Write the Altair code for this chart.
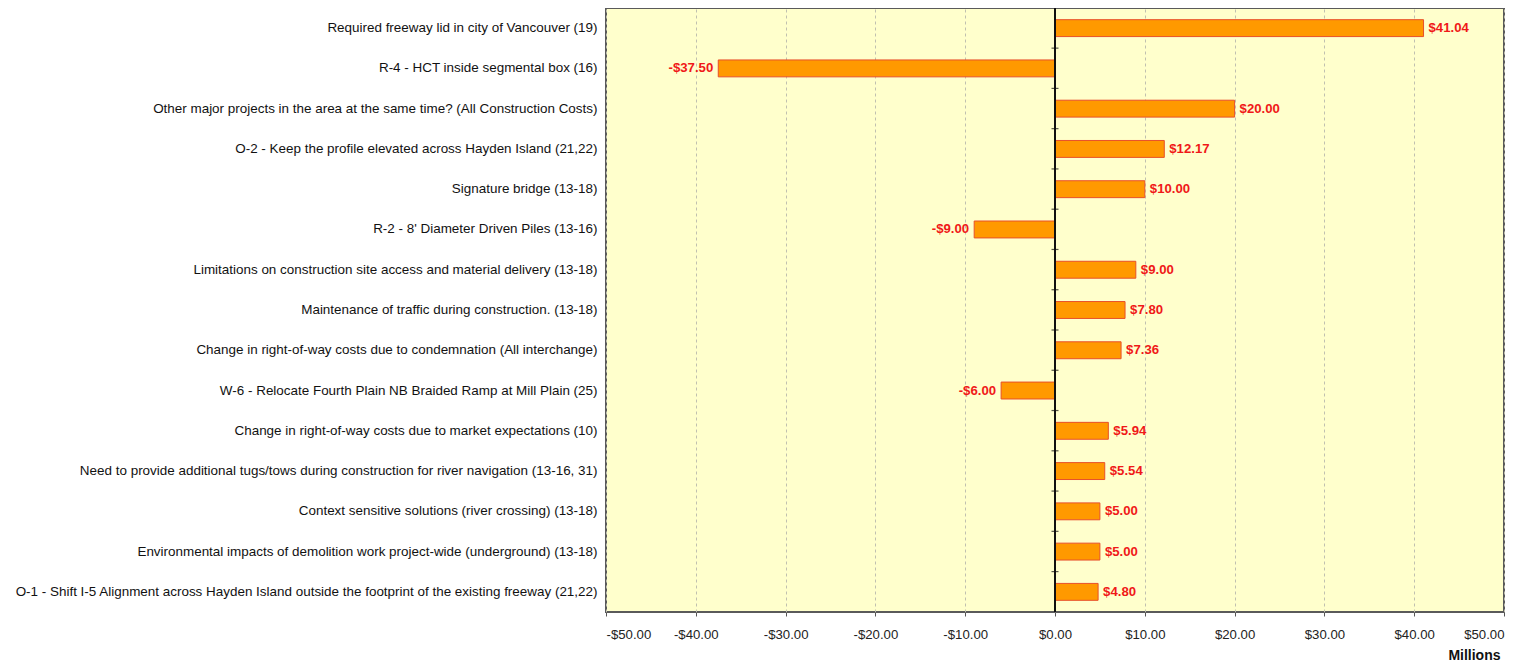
import altair as alt
import pandas as pd

categories = [
    "Required freeway lid in city of Vancouver (19)",
    "R-4 - HCT inside segmental box (16)",
    "Other major projects in the area at the same time? (All Construction Costs)",
    "O-2 - Keep the profile elevated across Hayden Island (21,22)",
    "Signature bridge (13-18)",
    "R-2 - 8' Diameter Driven Piles (13-16)",
    "Limitations on construction site access and material delivery (13-18)",
    "Maintenance of traffic during construction. (13-18)",
    "Change in right-of-way costs due to condemnation (All interchange)",
    "W-6 - Relocate Fourth Plain NB Braided Ramp at Mill Plain (25)",
    "Change in right-of-way costs due to market expectations (10)",
    "Need to provide additional tugs/tows during construction for river navigation (13-16, 31)",
    "Context sensitive solutions (river crossing) (13-18)",
    "Environmental impacts of demolition work project-wide (underground) (13-18)",
    "O-1 - Shift I-5 Alignment across Hayden Island outside the footprint of the existing freeway (21,22)",
]
values = [41.04, -37.50, 20.00, 12.17, 10.00, -9.00, 9.00, 7.80, 7.36, -6.00,
          5.94, 5.54, 5.00, 5.00, 4.80]
x_ticks = [-50, -40, -30, -20, -10, 0, 10, 20, 30, 40, 50]

df = pd.DataFrame({"item": categories, "value": values})
df["pos"] = df["value"] >= 0

FONT = "Liberation Sans"
FS = 13.2
W, H = 898, 604

y_enc = alt.Y("item:N", sort=categories,
              scale=alt.Scale(paddingInner=0.58, paddingOuter=0.29),
              axis=alt.Axis(title=None, ticks=False, domain=False, labelLimit=1000,
                            labelFont=FONT, labelFontSize=13.45, labelColor="#111",
                            labelPadding=9, grid=False))
x_scale = alt.Scale(domain=[-50, 50], nice=False)
x_enc = alt.X("value:Q", scale=x_scale,
              axis=alt.Axis(values=x_ticks, title="Millions",
                            labelExpr="datum.value < 0 ? '-$' + format(abs(datum.value), '.2f') : '$' + format(datum.value, '.2f')",
                            labelFont=FONT, labelFontSize=FS, labelColor="#222",
                            labelPadding=12, domain=False, tickSize=4, tickColor="#555",
                            grid=True, gridDash=[3, 3], gridColor="#c0c0b0",
                            titleFont=FONT, titleFontSize=14, titleFontWeight="bold",
                            titleColor="#111", titleAnchor="end", titleAlign="right",
                            titleX=894, titleY=36))

base = alt.Chart(df)

bars = base.mark_bar(color="#FF9900", stroke="#E8502A", strokeWidth=1).encode(
    x=x_enc, x2=alt.datum(0), y=y_enc)

zero = base.mark_rule(color="#111", strokeWidth=1.5).encode(
    x=alt.datum(0, scale=x_scale), y=alt.value(0), y2=alt.value(H))

sep = alt.Chart(df.iloc[:-1]).mark_tick(orient="horizontal", size=7, color="#111",
                                         thickness=1.2, yOffset=20).encode(
    x=alt.datum(0, scale=x_scale), y=alt.Y("item:N", sort=categories))

lab_pos = alt.Chart(df[df["pos"]]).mark_text(
    align="left", dx=5, font=FONT, fontSize=FS, fontWeight="bold", color="#F01818"
).transform_calculate(lbl="'$' + format(datum.value, '.2f')").encode(
    x="value:Q", y=alt.Y("item:N", sort=categories), text="lbl:N")

lab_neg = alt.Chart(df[~df["pos"]]).mark_text(
    align="right", dx=-5, font=FONT, fontSize=FS, fontWeight="bold", color="#F01818"
).transform_calculate(lbl="'-$' + format(abs(datum.value), '.2f')").encode(
    x="value:Q", y=alt.Y("item:N", sort=categories), text="lbl:N")

chart = alt.layer(bars, zero, sep, lab_pos, lab_neg).properties(
    width=W, height=H,
    autosize=alt.AutoSizeParams(type="none"),
    padding={"left": 598, "top": 0, "right": 10, "bottom": 54},
).configure(background="white").configure_view(
    fill="#FFFFCC", stroke="#5a5a5a", strokeWidth=2)

chart.save("out.html", embed_options={"renderer": "svg", "actions": False})
